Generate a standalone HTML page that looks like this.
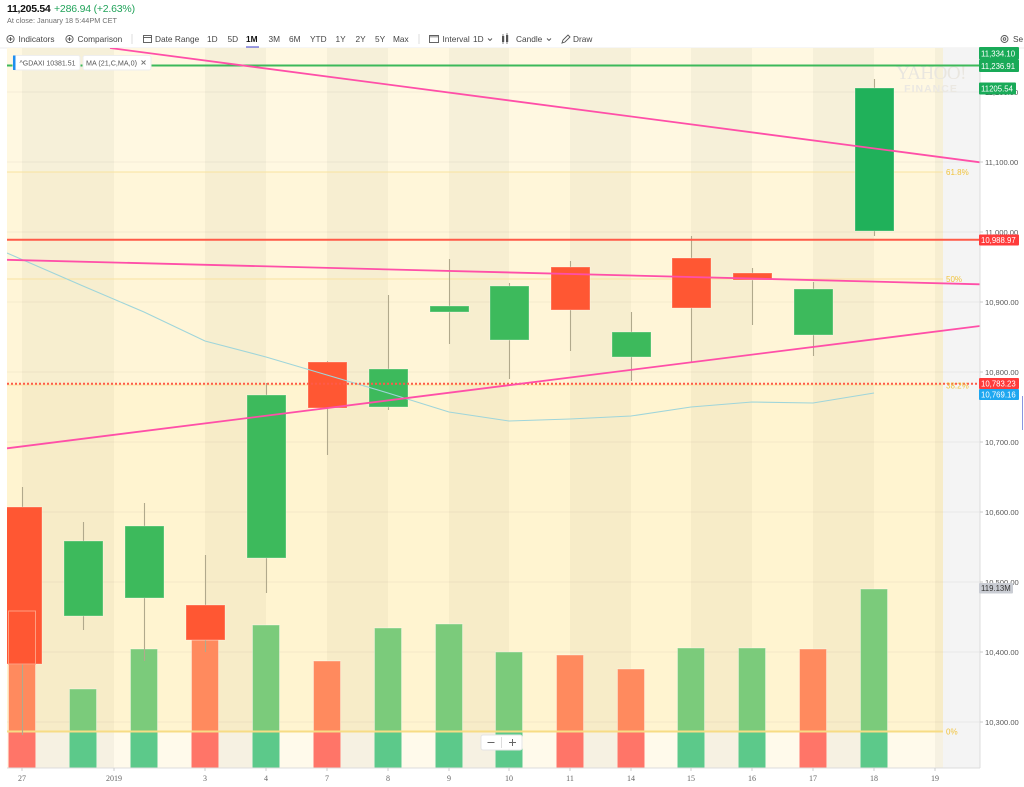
<!DOCTYPE html>
<html><head><meta charset="utf-8">
<style>
html,body{margin:0;padding:0;background:#fff;}
body{width:1024px;height:787px;overflow:hidden;position:relative;font-family:"Liberation Sans",Arial,sans-serif;}
.t{position:absolute;white-space:nowrap;}
</style></head>
<body>
<div class="t" style="left:7px;top:3px;font-size:10.5px;font-weight:bold;color:#111;letter-spacing:-0.3px;">11,205.54</div>
<div class="t" style="left:54px;top:3px;font-size:10.5px;color:#21a35a;letter-spacing:-0.2px;">+286.94 (+2.63%)</div>
<div class="t" style="left:7px;top:15.5px;font-size:7.3px;color:#707070;">At close: January 18 5:44PM CET</div>

<svg width="1024" height="787" style="position:absolute;left:0;top:0" xmlns="http://www.w3.org/2000/svg" font-family="Liberation Sans, Arial, sans-serif">
<defs><clipPath id="cc"><rect x="7" y="48" width="973" height="720"/></clipPath></defs>
<!-- toolbar -->
<g fill="none" stroke="#555" stroke-width="0.9">
<circle cx="10.5" cy="39" r="3.6"/><path d="M8.5 39h4M10.5 37v4"/>
<circle cx="69.5" cy="39" r="3.6"/><path d="M67.5 39h4M69.5 37v4"/>
<rect x="143.5" y="35.5" width="8" height="7"/><path d="M143.5 37.5h8"/>
<rect x="429.5" y="35.5" width="9" height="7"/><path d="M431 35.5v2M433 35.5v2M435 35.5v2M437 35.5v2"/>
<path d="M562 43l1-3 5-5 2 2-5 5z"/>
<circle cx="1004.5" cy="39" r="3.5"/><circle cx="1004.5" cy="39" r="1.3"/>
<path d="M488 38.5l2 2 2-2M547 38.5l2 2 2-2" />
</g>
<g fill="#555"><rect x="502" y="36" width="2.2" height="6"/><rect x="506" y="35" width="2.2" height="7"/><path d="M503 34v10M507 33v11" stroke="#555" stroke-width="0.7"/></g>
<line x1="132" y1="34" x2="132" y2="44" stroke="#ddd"/>
<line x1="419" y1="34" x2="419" y2="44" stroke="#ddd"/>
<g font-size="8.3" fill="#464646">
<text x="18.5" y="42">Indicators</text>
<text x="77.5" y="42">Comparison</text>
<text x="155" y="42">Date Range</text>
<text x="207" y="42">1D</text>
<text x="227.5" y="42">5D</text>
<text x="246" y="42" font-weight="bold" fill="#111">1M</text>
<text x="268.5" y="42">3M</text>
<text x="289" y="42">6M</text>
<text x="310" y="42">YTD</text>
<text x="335.5" y="42">1Y</text>
<text x="355.5" y="42">2Y</text>
<text x="375" y="42">5Y</text>
<text x="393" y="42">Max</text>
<text x="442.5" y="42">Interval</text>
<text x="473" y="42">1D</text>
<text x="516" y="42">Candle</text>
<text x="573" y="42">Draw</text>
<text x="1013" y="42">Se</text>
</g>
<rect x="246" y="46.5" width="13" height="1.6" fill="#3d3dc9"/>
<line x1="0" y1="48" x2="1024" y2="48" stroke="#ececec"/>

<g clip-path="url(#cc)">
<rect x="7" y="48" width="936" height="720" fill="#fffaeb"/>
<g fill="#f6f1e2">
<rect x="22" y="48" width="92" height="720"/>
<rect x="205" y="48" width="61" height="720"/>
<rect x="327" y="48" width="61" height="720"/>
<rect x="449" y="48" width="60" height="720"/>
<rect x="570" y="48" width="61" height="720"/>
<rect x="691" y="48" width="61" height="720"/>
<rect x="813" y="48" width="61" height="720"/>
<rect x="935" y="48" width="8" height="720"/>
</g>
<rect x="943" y="48" width="37" height="720" fill="#f4f4f4"/>
<rect x="7" y="48" width="936" height="124" fill="rgb(255,222,100)" fill-opacity="0.07"/>
<rect x="7" y="172" width="936" height="107" fill="rgb(255,222,100)" fill-opacity="0.13"/>
<rect x="7" y="279" width="936" height="106" fill="rgb(255,222,100)" fill-opacity="0.15"/>
<rect x="7" y="385" width="936" height="346" fill="rgb(255,222,100)" fill-opacity="0.2"/>
<g stroke="#000" stroke-opacity="0.045" stroke-width="1">
<line x1="7" y1="92" x2="980" y2="92"/><line x1="7" y1="162" x2="980" y2="162"/>
<line x1="7" y1="232" x2="980" y2="232"/><line x1="7" y1="302" x2="980" y2="302"/>
<line x1="7" y1="372" x2="980" y2="372"/><line x1="7" y1="442" x2="980" y2="442"/>
<line x1="7" y1="512" x2="980" y2="512"/><line x1="7" y1="582" x2="980" y2="582"/>
<line x1="7" y1="652" x2="980" y2="652"/><line x1="7" y1="722" x2="980" y2="722"/>
</g>
<g stroke="#f8e3a0" stroke-width="1">
<line x1="7" y1="172" x2="943" y2="172"/><line x1="7" y1="279" x2="943" y2="279"/><line x1="7" y1="385" x2="943" y2="385"/>
</g>
<text x="931" y="79" text-anchor="middle" font-family="Liberation Serif, serif" font-size="19" fill="#e9e6df" letter-spacing="-0.5">YAHOO!</text>
<text x="931" y="92" text-anchor="middle" font-size="10.5" font-weight="bold" fill="#ebe8e2" letter-spacing="1">FINANCE</text>
<g stroke="#ffffff" stroke-opacity="0.35" stroke-width="1">
<rect x="8.5" y="611" width="27" height="157" fill="#ff8a5e"/>
<rect x="69.5" y="689" width="27" height="79" fill="#7bcb7b"/>
<rect x="130.5" y="649" width="27" height="119" fill="#7bcb7b"/>
<rect x="191.5" y="640" width="27" height="128" fill="#ff8a5e"/>
<rect x="252.5" y="625" width="27" height="143" fill="#7bcb7b"/>
<rect x="313.5" y="661" width="27" height="107" fill="#ff8a5e"/>
<rect x="374.5" y="628" width="27" height="140" fill="#7bcb7b"/>
<rect x="435.5" y="624" width="27" height="144" fill="#7bcb7b"/>
<rect x="495.5" y="652" width="27" height="116" fill="#7bcb7b"/>
<rect x="556.5" y="655" width="27" height="113" fill="#ff8a5e"/>
<rect x="617.5" y="669" width="27" height="99" fill="#ff8a5e"/>
<rect x="677.5" y="648" width="27" height="120" fill="#7bcb7b"/>
<rect x="738.5" y="648" width="27" height="120" fill="#7bcb7b"/>
<rect x="799.5" y="649" width="27" height="119" fill="#ff8a5e"/>
<rect x="860.5" y="589" width="27" height="179" fill="#7bcb7b"/>
</g>
<g>
<rect x="8.5" y="732" width="27" height="36" fill="#ff7568"/>
<rect x="69.5" y="732" width="27" height="36" fill="#5cc98a"/>
<rect x="130.5" y="732" width="27" height="36" fill="#5cc98a"/>
<rect x="191.5" y="732" width="27" height="36" fill="#ff7568"/>
<rect x="252.5" y="732" width="27" height="36" fill="#5cc98a"/>
<rect x="313.5" y="732" width="27" height="36" fill="#ff7568"/>
<rect x="374.5" y="732" width="27" height="36" fill="#5cc98a"/>
<rect x="435.5" y="732" width="27" height="36" fill="#5cc98a"/>
<rect x="495.5" y="732" width="27" height="36" fill="#5cc98a"/>
<rect x="556.5" y="732" width="27" height="36" fill="#ff7568"/>
<rect x="617.5" y="732" width="27" height="36" fill="#ff7568"/>
<rect x="677.5" y="732" width="27" height="36" fill="#5cc98a"/>
<rect x="738.5" y="732" width="27" height="36" fill="#5cc98a"/>
<rect x="799.5" y="732" width="27" height="36" fill="#ff7568"/>
<rect x="860.5" y="732" width="27" height="36" fill="#5cc98a"/>
</g>
<line x1="7" y1="731.5" x2="943" y2="731.5" stroke="#f7dc85" stroke-width="2"/>
<g stroke="#b1a98c" stroke-width="1.1">
<line x1="22.5" y1="487" x2="22.5" y2="735"/>
<line x1="83.5" y1="522" x2="83.5" y2="630"/>
<line x1="144.5" y1="503" x2="144.5" y2="661"/>
<line x1="205.5" y1="555" x2="205.5" y2="652"/>
<line x1="266.5" y1="383" x2="266.5" y2="593"/>
<line x1="327.5" y1="361" x2="327.5" y2="455"/>
<line x1="388.5" y1="295" x2="388.5" y2="410"/>
<line x1="449.5" y1="259" x2="449.5" y2="344"/>
<line x1="509.5" y1="283" x2="509.5" y2="379"/>
<line x1="570.5" y1="261" x2="570.5" y2="351"/>
<line x1="631.5" y1="312" x2="631.5" y2="381"/>
<line x1="691.5" y1="236" x2="691.5" y2="362"/>
<line x1="752.5" y1="268" x2="752.5" y2="325"/>
<line x1="813.5" y1="282" x2="813.5" y2="356"/>
<line x1="874.5" y1="79" x2="874.5" y2="236"/>
</g>
<g stroke="#ffffff" stroke-opacity="0.3" stroke-width="1">
<rect x="3" y="507" width="39" height="157" fill="#ff5733"/>
<rect x="64" y="541" width="39" height="75" fill="#3dba5c"/>
<rect x="125" y="526" width="39" height="72" fill="#3dba5c"/>
<rect x="186" y="605" width="39" height="35" fill="#ff5733"/>
<rect x="247" y="395" width="39" height="163" fill="#3dba5c"/>
<rect x="308" y="362" width="39" height="46" fill="#ff5733"/>
<rect x="369" y="369" width="39" height="38" fill="#3dba5c"/>
<rect x="430" y="306" width="39" height="6" fill="#3dba5c"/>
<rect x="490" y="286" width="39" height="54" fill="#3dba5c"/>
<rect x="551" y="267" width="39" height="43" fill="#ff5733"/>
<rect x="612" y="332" width="39" height="25" fill="#3dba5c"/>
<rect x="672" y="258" width="39" height="50" fill="#ff5733"/>
<rect x="733" y="273" width="39" height="7" fill="#ff5733"/>
<rect x="794" y="289" width="39" height="46" fill="#3dba5c"/>
<rect x="855" y="88" width="39" height="143" fill="#20b15a"/>
</g>
<rect x="8.5" y="611" width="27" height="53" fill="none" stroke="#ff9d80" stroke-width="1"/>
<polyline fill="none" stroke="#9fd5da" stroke-width="1.1" points="7,253 83,286 144,312 205,341 266,357 327,375 388,393 449,412 509,421 570,419 631,416 691,407 752,402 813,403 874,393"/>
<line x1="7" y1="65.5" x2="980" y2="65.5" stroke="#3cb95a" stroke-width="2"/>
<line x1="7" y1="239.7" x2="980" y2="239.7" stroke="#ff5a48" stroke-width="2"/>
<line x1="7" y1="383.7" x2="980" y2="383.7" stroke="#ff5a48" stroke-width="2" stroke-dasharray="2,2"/>
<g stroke="#ff4fa8" stroke-width="1.8">
<line x1="110" y1="48" x2="980" y2="162.3"/>
<line x1="7" y1="259.8" x2="980" y2="284.3"/>
<line x1="7" y1="448.3" x2="980" y2="326"/>
</g>
<g font-size="8" fill="#f1c33c">
<text x="946" y="175">61.8%</text>
<text x="946" y="282">50%</text>
<text x="946" y="388.5">38.2%</text>
<text x="946" y="734.5">0%</text>
</g>
</g>

<line x1="980" y1="48" x2="980" y2="768" stroke="#dcdcdc"/>
<line x1="7" y1="768" x2="980" y2="768" stroke="#dcdcdc"/>
<g stroke="#ccc">
<line x1="980" y1="162" x2="983" y2="162"/><line x1="980" y1="232" x2="983" y2="232"/><line x1="980" y1="302" x2="983" y2="302"/>
<line x1="980" y1="372" x2="983" y2="372"/><line x1="980" y1="442" x2="983" y2="442"/><line x1="980" y1="512" x2="983" y2="512"/>
<line x1="980" y1="582" x2="983" y2="582"/><line x1="980" y1="652" x2="983" y2="652"/><line x1="980" y1="722" x2="983" y2="722"/>
</g>
<g font-size="7.6" fill="#5a5a5a">
<text x="985" y="95">11,200.00</text>
<text x="985" y="165">11,100.00</text>
<text x="985" y="235">11,000.00</text>
<text x="985" y="305">10,900.00</text>
<text x="985" y="375">10,800.00</text>
<text x="985" y="445">10,700.00</text>
<text x="985" y="515">10,600.00</text>
<text x="985" y="585">10,500.00</text>
<text x="985" y="655">10,400.00</text>
<text x="985" y="725">10,300.00</text>
</g>
<g font-size="7.8" fill="#fff">
<rect x="979" y="47" width="40" height="12.5" rx="1" fill="#19aa58"/><text x="981" y="56.5">11,334.10</text>
<rect x="979" y="59.5" width="40" height="12.5" rx="1" fill="#19aa58"/><text x="981" y="69">11,236.91</text>
<rect x="979" y="82.5" width="37" height="12" rx="1" fill="#19aa58"/><text x="981" y="91.5">11205.54</text>
<rect x="979" y="234.5" width="40" height="11" rx="1" fill="#ff3b3b"/><text x="981" y="243">10,988.97</text>
<rect x="979" y="378" width="40" height="11" rx="1" fill="#ff3b3b"/><text x="981" y="386.5">10,783.23</text>
<rect x="979" y="389" width="40" height="11" rx="1" fill="#1ea7f0"/><text x="981" y="397.5">10,769.16</text>
<rect x="979" y="583" width="34" height="10.5" rx="1" fill="#c9ccd3"/><text x="981" y="591" fill="#333">119.13M</text>
</g>
<line x1="1022.5" y1="396" x2="1022.5" y2="430" stroke="#8a96e0" stroke-width="1"/>
<g stroke="#ccc">
<line x1="22" y1="768" x2="22" y2="771"/><line x1="114" y1="768" x2="114" y2="771"/><line x1="205" y1="768" x2="205" y2="771"/>
<line x1="266" y1="768" x2="266" y2="771"/><line x1="327" y1="768" x2="327" y2="771"/><line x1="388" y1="768" x2="388" y2="771"/>
<line x1="449" y1="768" x2="449" y2="771"/><line x1="509" y1="768" x2="509" y2="771"/><line x1="570" y1="768" x2="570" y2="771"/>
<line x1="631" y1="768" x2="631" y2="771"/><line x1="691" y1="768" x2="691" y2="771"/><line x1="752" y1="768" x2="752" y2="771"/>
<line x1="813" y1="768" x2="813" y2="771"/><line x1="874" y1="768" x2="874" y2="771"/><line x1="935" y1="768" x2="935" y2="771"/>
</g>
<g font-family="Liberation Serif, serif" font-size="8" fill="#666" text-anchor="middle">
<text x="22" y="781">27</text><text x="114" y="781">2019</text><text x="205" y="781">3</text><text x="266" y="781">4</text>
<text x="327" y="781">7</text><text x="388" y="781">8</text><text x="449" y="781">9</text><text x="509" y="781">10</text>
<text x="570" y="781">11</text><text x="631" y="781">14</text><text x="691" y="781">15</text><text x="752" y="781">16</text>
<text x="813" y="781">17</text><text x="874" y="781">18</text><text x="935" y="781">19</text>
</g>
<rect x="481" y="735" width="41" height="15" rx="2" fill="#fff" stroke="#e4e4e4"/>
<line x1="501.5" y1="737" x2="501.5" y2="748" stroke="#ddd"/>
<path d="M487.5 742.5h7M509 742.5h7M512.5 739v7" stroke="#666" stroke-width="1"/>
<rect x="13" y="55.5" width="67" height="14.5" rx="2" fill="#fff" stroke="#eee"/>
<rect x="13" y="55.5" width="2.5" height="14.5" fill="#1f8ff0"/>
<text x="19.5" y="65.5" font-size="7.3" fill="#555" textLength="56" lengthAdjust="spacingAndGlyphs">^GDAXI 10381.51</text>
<rect x="83" y="55.5" width="68" height="14.5" rx="2" fill="#fff" stroke="#eee"/>
<text x="86" y="65.5" font-size="7.3" fill="#555" textLength="51" lengthAdjust="spacingAndGlyphs">MA (21,C,MA,0)</text>
<path d="M141.5 60.5l4 4M145.5 60.5l-4 4" stroke="#777" stroke-width="0.9"/>
</svg>
</body></html>
